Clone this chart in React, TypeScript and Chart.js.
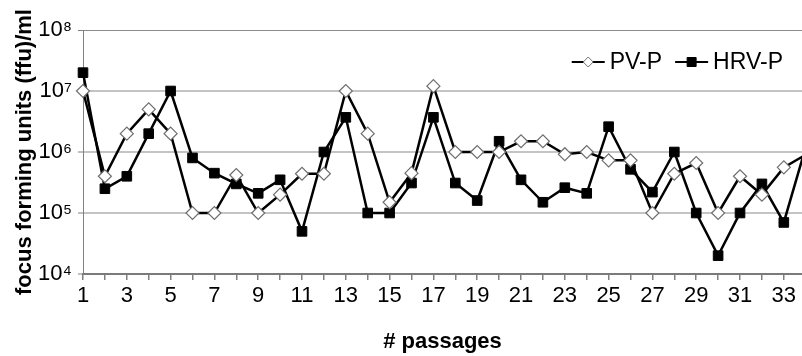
import React, { useEffect, useRef } from 'react';
import { Chart, registerables } from 'chart.js';

Chart.register(...registerables);

// ---- data ----
const passages = [1, 2, 3, 4, 5, 6, 7, 8, 9, 10, 11, 12, 13, 14, 15, 16, 17, 18, 19, 20, 21, 22, 23, 24, 25, 26, 27, 28, 29, 30, 31, 32, 33, 34];
const pvP = [1e7, 4e5, 2e6, 5e6, 2e6, 1e5, 1e5, 4.2e5, 1e5, 2e5, 4.4e5, 4.4e5, 1e7, 2e6, 1.5e5, 4.5e5, 1.2e7, 1e6, 1e6, 1e6, 1.5e6, 1.5e6, 9.2e5, 1e6, 7.3e5, 7.3e5, 1e5, 4.4e5, 6.6e5, 1e5, 4e5, 2e5, 5.6e5, 9e5];
const hrvP = [2e7, 2.5e5, 4e5, 2e6, 1e7, 8e5, 4.5e5, 3e5, 2.1e5, 3.5e5, 5e4, 1e6, 3.7e6, 1e5, 1e5, 3.1e5, 3.7e6, 3.1e5, 1.6e5, 1.5e6, 3.5e5, 1.5e5, 2.6e5, 2.1e5, 2.6e6, 5.2e5, 2.2e5, 1e6, 1e5, 2e4, 1e5, 3e5, 7e4, 1.2e6];
const seriesLabels = ['PV-P', 'HRV-P'];
const xTickLabels = ['1', '3', '5', '7', '9', '11', '13', '15', '17', '19', '21', '23', '25', '27', '29', '31', '33'];
const yTickValues = [1e4, 1e5, 1e6, 1e7, 1e8];
const yTickLabels = ['10\u2074', '10\u2075', '10\u2076', '10\u2077', '10\u2078'];
const xTitle = '# passages';
const yTitle = 'focus forming units (ffu)/ml';

const FONT = '"Liberation Sans", Arial, Helvetica, sans-serif';

const inlineLegend = {
  id: 'inlineLegend',
  afterDatasetsDraw(chart: any) {
    const { ctx, chartArea } = chart;
    const datasets = chart.data.datasets;
    ctx.save();
    ctx.font = `23px ${FONT}`;
    ctx.textBaseline = 'middle';
    ctx.textAlign = 'left';
    const lineLen = 33;
    const gap = 5;
    const itemGap = 13;
    const widths = datasets.map((d: any) => ctx.measureText(d.label).width);
    const total = widths.reduce((a: number, w: number) => a + lineLen + gap + w, 0) + itemGap * (datasets.length - 1);
    let x = chartArea.right - 19 - total;
    const y = chartArea.top + 32;
    datasets.forEach((d: any, i: number) => {
      ctx.strokeStyle = d.borderColor;
      ctx.lineWidth = 2;
      ctx.beginPath();
      ctx.moveTo(x, y);
      ctx.lineTo(x + lineLen, y);
      ctx.stroke();
      const cx = x + lineLen / 2;
      ctx.fillStyle = d.pointBackgroundColor;
      ctx.strokeStyle = d.pointBorderColor;
      ctx.lineWidth = 1;
      ctx.beginPath();
      if (d.pointStyle === 'rectRot') {
        const r = 5;
        ctx.moveTo(cx, y - r);
        ctx.lineTo(cx + r, y);
        ctx.lineTo(cx, y + r);
        ctx.lineTo(cx - r, y);
        ctx.closePath();
      } else {
        const h = 4.5;
        ctx.rect(cx - h, y - h, 2 * h, 2 * h);
      }
      ctx.fill();
      ctx.stroke();
      ctx.fillStyle = '#000';
      ctx.fillText(d.label, x + lineLen + gap, y + 1);
      x += lineLen + gap + widths[i] + itemGap;
    });
    ctx.restore();
  },
};

// hide markers whose x lies beyond the visible axis range
const radiusInRange = (r: number) => (c: any) =>
  c.parsed && c.chart.scales.x && c.parsed.x > c.chart.scales.x.max ? 0 : r;

export default function App() {
  const ref = useRef<HTMLCanvasElement | null>(null);

  useEffect(() => {
    if (!ref.current) return;
    const clip = { left: 12, top: 12, right: 0, bottom: 12 };
    const chart = new Chart(ref.current, {
      type: 'line',
      data: {
        datasets: [
          {
            label: seriesLabels[0],
            data: passages.map((p, i) => ({ x: p, y: pvP[i] })),
            borderColor: '#000',
            borderWidth: 2.5,
            pointStyle: 'rectRot',
            pointRadius: radiusInRange(6.5),
            pointBackgroundColor: '#fff',
            pointBorderColor: '#6e6e6e',
            pointBorderWidth: 1.2,
            tension: 0,
            clip,
          } as any,
          {
            label: seriesLabels[1],
            data: passages.map((p, i) => ({ x: p, y: hrvP[i] })),
            borderColor: '#000',
            borderWidth: 2.5,
            pointStyle: 'rect',
            pointRadius: radiusInRange(6.8),
            pointBackgroundColor: '#000',
            pointBorderColor: '#000',
            pointBorderWidth: 1,
            tension: 0,
            clip,
          } as any,
        ],
      },
      options: {
        responsive: false,
        animation: false,
        layout: { autoPadding: false, padding: { left: 4, top: 30, right: 0, bottom: 0 } },
        plugins: {
          legend: { display: false },
          tooltip: { enabled: false },
        },
        scales: {
          x: {
            type: 'linear',
            min: 1,
            max: 33.83,
            afterFit: (scale: any) => {
              scale.height = 82;
              scale.paddingRight = 0;
              scale.paddingLeft = 0;
            },
            ticks: {
              stepSize: 1,
              includeBounds: false,
              autoSkip: false,
              maxRotation: 0,
              color: '#000',
              font: { family: FONT, size: 22 },
              padding: 3,
              callback: (value: any) => (xTickLabels.includes(String(value)) ? String(value) : ''),
            },
            grid: {
              drawOnChartArea: false,
              drawTicks: true,
              tickLength: 6,
              tickColor: '#808080',
              lineWidth: 1.5,
            },
            border: { color: '#7a7a7a', width: 2 },
            title: {
              display: true,
              text: xTitle,
              color: '#000',
              font: { family: FONT, size: 22, weight: 'bold' },
              padding: { top: 4, bottom: 1 },
            },
          },
          y: {
            type: 'logarithmic',
            min: 1e4,
            max: 1e8,
            afterFit: (scale: any) => {
              scale.width = 79;
            },
            afterBuildTicks: (scale: any) => {
              scale.ticks = yTickValues.map((v) => ({ value: v }));
            },
            ticks: {
              color: '#000',
              font: { family: FONT, size: 22 },
              padding: 6,
              callback: (value: any) => {
                const i = yTickValues.indexOf(Number(value));
                return i >= 0 ? yTickLabels[i] : '';
              },
            },
            grid: {
              color: (c: any) => (c.tick && (c.tick.value === 1e8 || c.tick.value === 1e4) ? '#8c8c8c' : '#c4c4c4'),
              lineWidth: (c: any) => (c.tick && c.tick.value === 1e8 ? 1 : 2),
              drawTicks: true,
              tickLength: 5,
              tickColor: '#808080',
              tickWidth: 1,
            } as any,
            border: { color: '#808080', width: 1 },
            title: {
              display: true,
              text: yTitle,
              color: '#000',
              font: { family: FONT, size: 22, weight: 'bold' },
              padding: { top: 8, bottom: 0 },
            },
          },
        },
      } as any,
      plugins: [inlineLegend],
    });
    return () => chart.destroy();
  }, []);

  return (
    <div style={{ position: 'absolute', left: 0, top: 0, width: 802, height: 356, background: '#fff' }}>
      <canvas ref={ref} width={802} height={356} style={{ display: 'block' }} />
    </div>
  );
}
